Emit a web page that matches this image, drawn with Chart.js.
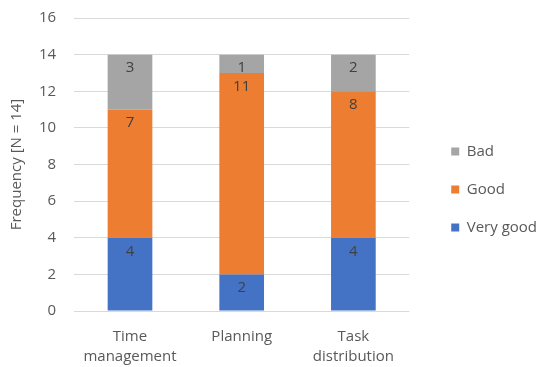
<!DOCTYPE html>
<html>
<head>
<meta charset="utf-8">
<script src="https://cdn.jsdelivr.net/npm/chart.js@4/dist/chart.umd.min.js"></script>
<style>
  html, body { margin: 0; padding: 0; background: #fff; }
  #wrap { width: 543px; height: 367px; }
</style>
</head>
<body>
<div id="wrap"><canvas id="surveyChart"></canvas></div>
<script>
const categories = [['Time', 'management'], 'Planning', ['Task', 'distribution']];
const veryGood = [4, 2, 4];
const good = [7, 11, 8];
const bad = [3, 1, 2];
const yTicks = [0, 2, 4, 6, 8, 10, 12, 14, 16];

const textColor = '#595959';
const fontFamily = "'Open Sans', 'Noto Sans', sans-serif";

// labels inside each segment, near its top
const segmentLabels = {
  id: 'segmentLabels',
  afterDatasetsDraw(chart) {
    const ctx = chart.ctx;
    ctx.save();
    ctx.font = '15px ' + fontFamily;
    ctx.fillStyle = '#404040';
    ctx.textAlign = 'center';
    ctx.textBaseline = 'middle';
    chart.data.datasets.forEach((ds, i) => {
      const meta = chart.getDatasetMeta(i);
      meta.data.forEach((bar, j) => {
        ctx.fillText(String(ds.data[j]), bar.x, bar.y + 13.5);
      });
    });
    ctx.restore();
  }
};

// nudge the legend right and slightly up
const legendShift = {
  id: 'legendShift',
  afterLayout(chart) {
    chart.legend.left += 19;
    chart.legend.right += 19;
    chart.legend.top -= 3;
    chart.legend.bottom -= 3;
  }
};

new Chart(document.getElementById('surveyChart'), {
  type: 'bar',
  data: {
    labels: categories,
    datasets: [
      { label: 'Very good', data: veryGood, backgroundColor: '#4472C4' },
      { label: 'Good', data: good, backgroundColor: '#ED7D31' },
      { label: 'Bad', data: bad, backgroundColor: '#A5A5A5' }
    ]
  },
  options: {
    responsive: true,
    maintainAspectRatio: false,
    animation: false,
    datasets: { bar: { categoryPercentage: 1, barPercentage: 0.4 } },
    layout: { padding: { top: 18, left: 4, right: 15, bottom: 0 } },
    plugins: {
      tooltip: { enabled: false },
      legend: {
        position: 'right',
        reverse: true,
        labels: {
          boxWidth: 8,
          boxHeight: 8,
          padding: 23,
          color: textColor,
          font: { family: fontFamily, size: 15 }
        }
      }
    },
    scales: {
      x: {
        stacked: true,
        grid: { display: false, drawTicks: false },
        border: { display: false },
        ticks: { color: textColor, font: { family: fontFamily, size: 15, lineHeight: 1.3 }, maxRotation: 0, padding: 16 },
        afterFit(axis) { axis.height -= 15; }
      },
      y: {
        stacked: true,
        min: 0,
        max: 16,
        afterBuildTicks(axis) { axis.ticks = yTicks.map(v => ({ value: v })); },
        afterFit(axis) { axis.paddingTop = 0; axis.paddingBottom = 0; axis.width -= 9; },
        grid: { color: '#D9D9D9', drawTicks: false },
        border: { display: false },
        ticks: { color: textColor, font: { family: fontFamily, size: 15 }, padding: 18 },
        title: { display: true, text: 'Frequency [N = 14]', color: textColor, font: { family: fontFamily, size: 15 } }
      }
    }
  },
  plugins: [segmentLabels, legendShift]
});
</script>
</body>
</html>
